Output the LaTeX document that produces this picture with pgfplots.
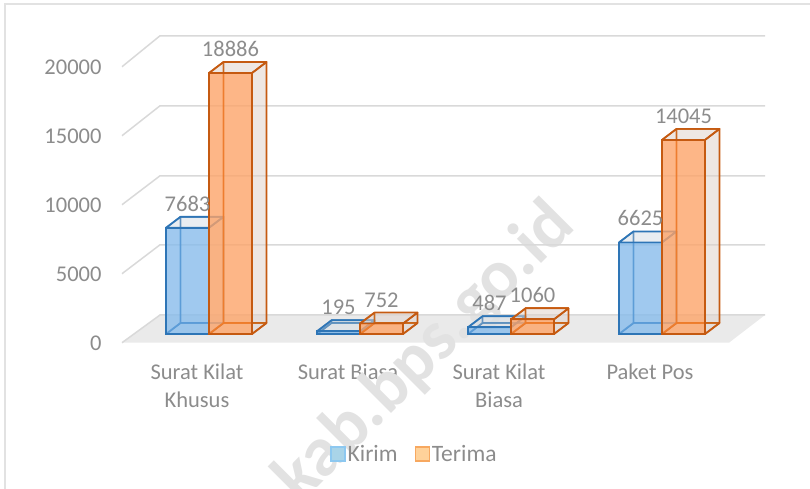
\documentclass[border=0pt]{standalone}
\usepackage{pgfplots}
\pgfplotsset{compat=1.18}
\usepackage{fontspec}
\setmainfont{Carlito}
\definecolor{gridc}{HTML}{D9D9D9}
\definecolor{floorc}{HTML}{EAEAEA}
\definecolor{txt}{HTML}{8C8C8C}
\definecolor{kl}{HTML}{2E75B6}
\definecolor{kf}{HTML}{5BA3E5}
\definecolor{tl}{HTML}{C55A11}
\definecolor{tf}{HTML}{FF8A3C}
\definecolor{ts}{HTML}{8A5A40}
\definecolor{wm}{HTML}{E2E2E2}
\definecolor{frame}{HTML}{E2E2E2}
\definecolor{lk}{HTML}{8DC8F0}
\definecolor{lkf}{HTML}{A9D4E8}
\definecolor{lt}{HTML}{F7A860}
\definecolor{ltf}{HTML}{FFD29A}
\pgfplotsset{
 face/.style={line width=1.7pt,line join=round},
 kback/.style={face,draw=kl!80!white,fill=kf!12!white,fill opacity=.5,draw opacity=.85},
 tback/.style={face,draw=tl!75!orange,fill=ts!8!white,fill opacity=.5,draw opacity=.85},
 kside/.style={face,draw=kl,fill=gray,fill opacity=.10},
 tside/.style={face,draw=tl,fill=ts,fill opacity=.11},
 grid3d/.style={draw=gridc,line width=1.5pt,forget plot},
 lab/.style={nodes near coords,every node near coord/.append style={anchor=base,xshift=#1,yshift=16.5pt,text=txt,font=\fontsize{22.5}{26}\selectfont,text opacity=1}},
}
% #1 left x of the bar, #2 value, #3 value + depth, #4 style of the hidden faces, #5 style of top and side
\newcommand{\boxfaces}[5]{%
 \pgfmathsetmacro\xa{#1}%
 \pgfmathsetmacro\xb{#1+0.2848}%
 \pgfmathsetmacro\xc{#1+0.3808}%
 \pgfmathsetmacro\xd{#1+0.096}%
 \edef\tmp{\noexpand\addplot[#4,forget plot] coordinates {(\xd,796)(\xc,796)(\xc,#3)(\xd,#3)} --cycle;
 \noexpand\addplot[#4,forget plot] coordinates {(\xa,0)(\xb,0)(\xc,796)(\xd,796)} --cycle;
 \noexpand\addplot[#4,forget plot] coordinates {(\xa,0)(\xd,796)(\xd,#3)(\xa,#2)} --cycle;
 \noexpand\addplot[#5,forget plot] coordinates {(\xa,#2)(\xb,#2)(\xc,#3)(\xd,#3)} --cycle;
 \noexpand\addplot[#5,forget plot] coordinates {(\xb,0)(\xc,796)(\xc,#3)(\xb,#2)} --cycle;}%
 \tmp}
\begin{document}
\begin{tikzpicture}
\useasboundingbox (0,0) rectangle (810pt,489pt);
\draw[frame,line width=1.3pt] (5pt,0) -- (5pt,485pt) -- (810pt,485pt);
\begin{axis}[
 at={(0,0)},anchor=south west,
 scale only axis,width=810pt,height=489pt,
 xmin=-1.3841,xmax=3.9801,
 ymin=-11216,ymax=24168,
 clip=false,
 axis line style={draw=none},
 major tick length=0pt,
 xtick={0,1,2,3},
 xticklabels={Surat Kilat\\Khusus,Surat Biasa,Surat Kilat\\Biasa,Paket Pos},
 xticklabel style={font=\fontsize{22.5}{28}\selectfont,text=txt,align=center,anchor=north,yshift=129pt,xshift=-12pt},
 ytick={-630,4362,9354,14346,19338},
 yticklabels={0,5000,10000,15000,20000},
 yticklabel style={font=\fontsize{22.5}{26}\selectfont,text=txt,anchor=east,xshift=105pt,yshift=-1pt},
 /pgf/number format/assume math mode=true,
 /pgf/number format/1000 sep={},
 legend style={draw=none,fill=none,at={(414.5pt,35pt)},anchor=center,legend columns=2,
   font=\fontsize{23.5}{26}\selectfont,text=txt,/tikz/every even column/.style={column sep=15pt}},
 legend image code/.code={\draw[#1,line width=1.2pt] (0pt,-7pt) rectangle (14pt,7pt);},
]
% floor and walls
\addplot[draw=none,fill=floorc,forget plot] coordinates {(-0.5762,-630)(-0.3245,1375)(3.6821,1375)(3.4437,-630)} --cycle;
\node[rotate=45,text=wm,font=\fontsize{70.5}{74}\bfseries\selectfont,anchor=base west,inner sep=0pt] at (axis cs:0.6026,-12373) {kab.bps.go.id};
\addplot[grid3d] coordinates {(-0.5762,-630)(-0.3245,1375)(3.6821,1375)};
\addplot[grid3d] coordinates {(-0.5762,4362)(-0.3245,6454)(3.6821,6454)};
\addplot[grid3d] coordinates {(-0.5762,9354)(-0.3245,11447)(3.6821,11447)};
\addplot[grid3d] coordinates {(-0.5762,14346)(-0.3245,16512)(3.6821,16512)};
\addplot[grid3d] coordinates {(-0.5762,19338)(-0.3245,21578)(3.6821,21578)};
% legend keys
\addlegendimage{draw=lk,fill=lkf}
\addlegendimage{draw=lt,fill=ltf}
\addlegendentry{Kirim}
\addlegendentry{Terima}
% Kirim
\boxfaces{-0.2848}{7683}{8479}{kback}{kside}
\boxfaces{0.7152}{195}{991}{kback}{kside}
\boxfaces{1.7152}{487}{1283}{kback}{kside}
\boxfaces{2.7152}{6625}{7421}{kback}{kside}
\addplot[ybar,bar width=43pt,bar shift=-21.5pt,draw=kl,line width=1.7pt,fill=kf,fill opacity=.55,forget plot,lab=-21.5pt]
 coordinates {(0,7683)(1,195)(2,487)(3,6625)};
% Terima
\boxfaces{0}{18886}{19682}{tback}{tside}
\boxfaces{1}{752}{1548}{tback}{tside}
\boxfaces{2}{1060}{1856}{tback}{tside}
\boxfaces{3}{14045}{14841}{tback}{tside}
\addplot[ybar,bar width=43pt,bar shift=21.5pt,draw=tl,line width=1.7pt,fill=tf,fill opacity=.6,forget plot,lab=21.5pt]
 coordinates {(0,18886)(1,752)(2,1060)(3,14045)};
\end{axis}
\end{tikzpicture}
\end{document}
